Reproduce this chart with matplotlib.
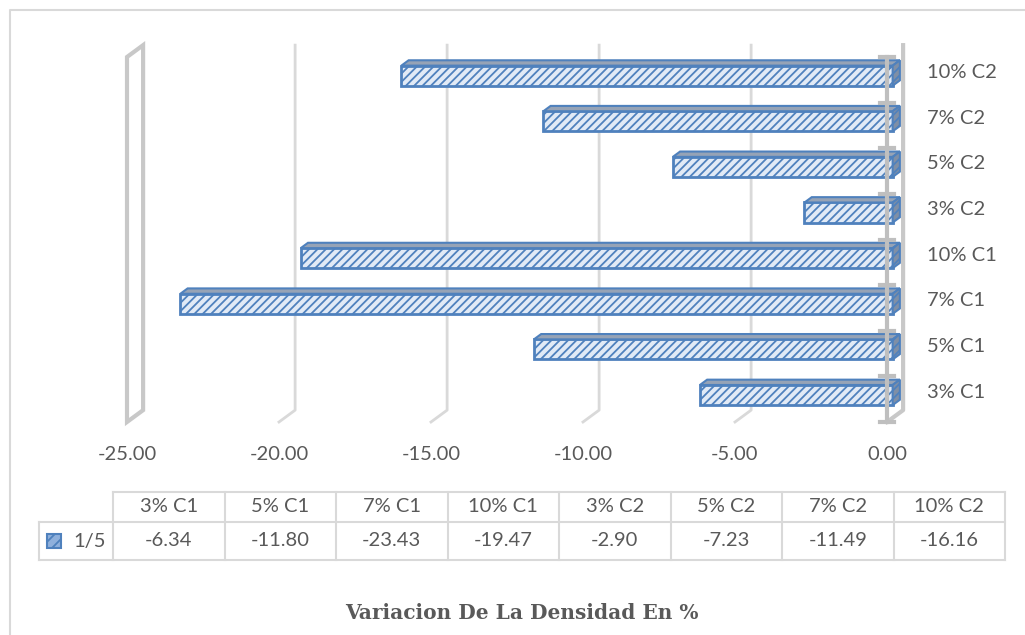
import numpy as np
import matplotlib.pyplot as plt
from matplotlib.patches import Polygon, Rectangle

plt.rcParams['font.family'] = ['Lato', 'DejaVu Sans']
plt.rcParams['hatch.linewidth'] = 1.3

categorias = ['3% C1', '5% C1', '7% C1', '10% C1', '3% C2', '5% C2', '7% C2', '10% C2']
serie = '1/5'
variacion = [-6.34, -11.80, -23.43, -19.47, -2.90, -7.23, -11.49, -16.16]
x_ticks = [-25, -20, -15, -10, -5, 0]

TXT = '#595959'
GRID = '#d9d9d9'
WALL = '#c8c8c8'
EDGE = '#4f81bd'
FACE = '#e1eaf6'
TOP = '#96a3b6'
SIDE = '#7f8fa6'

# desplazamiento de profundidad (efecto 3D) en unidades de datos
DX, DY = 0.53, 0.26
D0, D1 = 0.35, 0.80
ALTO = 0.44

W, H = 1025, 635
fig = plt.figure(figsize=(W / 100, H / 100), dpi=100)


def px_axes(x0, y0, x1, y1):
    return fig.add_axes([x0 / W, 1 - y1 / H, (x1 - x0) / W, (y1 - y0) / H])


def p(x, y, d):
    # punto (x, y) llevado a la profundidad d
    return (x + d * DX, y + d * DY)


# marco y titulo
bg = fig.add_axes([0, 0, 1, 1])
bg.set_xlim(0, W)
bg.set_ylim(H, 0)
bg.axis('off')
bg.plot([9.5, 9.5, W], [H, 9.5, 9.5], color=GRID, lw=1.5)
bg.text(522, 613, 'Variacion De La Densidad En %', ha='center', va='center',
        fontsize=14.5, fontweight='bold', family='DejaVu Serif', color=TXT)

# grafico de barras
ax = px_axes(127, 57, 887, 422)
n = len(categorias)
ax.set_xlim(-25, 0)
ax.set_ylim(0, n)
for s in ax.spines.values():
    s.set_visible(False)
ax.set_yticks([])
ax.set_xticks(x_ticks, ['%.2f' % t for t in x_ticks])
ax.tick_params(axis='x', length=0, pad=17, labelsize=14.5, labelcolor=TXT)

# lineas de division sobre la pared del fondo
for t in x_ticks[1:-1]:
    xs, ys = zip(p(t, n, 1), p(t, 0, 1), p(t, 0, 0))
    ax.plot(xs, ys, color=GRID, lw=2, clip_on=False, zorder=1)

# pared lateral en -25
caja = Polygon([p(-25, 0, 0), p(-25, n, 0), p(-25, n, 1), p(-25, 0, 1)],
               closed=True, fill=False, edgecolor=WALL, lw=3, clip_on=False, zorder=1)
ax.add_patch(caja)

# borde del fondo en 0
xs, ys = zip(p(0, n, 1), p(0, 0, 1), p(0, 0, 0))
ax.plot(xs, ys, color=WALL, lw=3, clip_on=False, zorder=1)

# barras: cara frontal, cara superior y extremo
y = np.arange(n) + 0.5
ax.barh(y + D0 * DY, variacion, height=ALTO, left=D0 * DX, facecolor=FACE,
        edgecolor=EDGE, hatch='////', lw=2, clip_on=False, zorder=3)
for yc, v in zip(y, variacion):
    y0, y1 = yc - ALTO / 2, yc + ALTO / 2
    sup = Polygon([p(v, y1, D0), p(0, y1, D0), p(0, y1, D1), p(v, y1, D1)],
                  closed=True, facecolor=TOP, edgecolor=EDGE, lw=1.5,
                  clip_on=False, zorder=3)
    lado = Polygon([p(0, y0, D0), p(0, y1, D0), p(0, y1, D1), p(0, y0, D1)],
                   closed=True, facecolor=SIDE, edgecolor=EDGE, lw=1.5,
                   hatch='////', clip_on=False, zorder=3)
    ax.add_patch(sup)
    ax.add_patch(lado)

# eje de categorias en 0 con sus marcas
ax.plot([0, 0], [0, n], color='#bfbfbf', lw=3, clip_on=False, zorder=4)
for k in range(n + 1):
    ax.plot([-0.23, 0.23], [k, k], color='#bfbfbf', lw=3, clip_on=False, zorder=4)

for yc, c in zip(y, categorias):
    ax.text(1.3, yc + 0.6 * DY, c, ha='left', va='center', fontsize=14.5, color=TXT)

# tabla de datos
LEG = 74 / 111.5
FILA = 38 / 68
tb = px_axes(39, 492, 1005, 560)
tb.set_xlim(-LEG, n)
tb.set_ylim(0, 1)
tb.axis('off')
tb.plot([0, n], [1, 1], color=GRID, lw=1.5, clip_on=False)
tb.plot([-LEG, n], [FILA, FILA], color=GRID, lw=1.5, clip_on=False)
tb.plot([-LEG, n], [0, 0], color=GRID, lw=1.5, clip_on=False)
for j in range(n + 1):
    tb.plot([j, j], [0, 1], color=GRID, lw=1.5, clip_on=False)
tb.plot([-LEG, -LEG], [0, FILA], color=GRID, lw=1.5, clip_on=False)

for j, (c, v) in enumerate(zip(categorias, variacion)):
    tb.text(j + 0.5, (1 + FILA) / 2, c, ha='center', va='center', fontsize=14.5, color=TXT)
    tb.text(j + 0.5, FILA / 2, '%.2f' % v, ha='center', va='center', fontsize=14.5, color=TXT)

tb.add_patch(Rectangle((-0.595, FILA / 2 - 0.11), 0.13, 0.22, facecolor='#8fb0dc',
                       edgecolor=EDGE, hatch='///', lw=1.5))
tb.text(-0.36, FILA / 2, serie, ha='left', va='center', fontsize=14.5, color=TXT)

fig.savefig('out.png', dpi=100)
